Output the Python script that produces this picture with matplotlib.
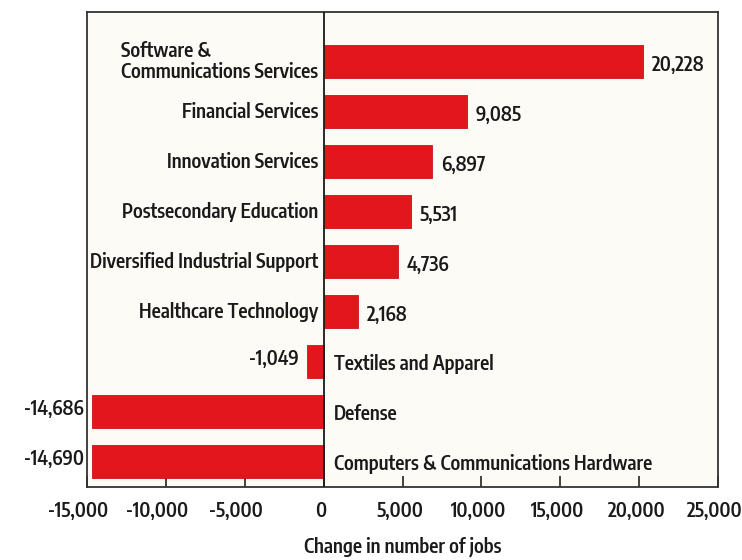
import matplotlib
matplotlib.use("Agg")
import matplotlib.pyplot as plt
from matplotlib.ticker import FuncFormatter
from matplotlib.transforms import ScaledTranslation

# Job change by industry cluster
categories = [
    "Software &\nCommunications Services",
    "Financial Services",
    "Innovation Services",
    "Postsecondary Education",
    "Diversified Industrial Support",
    "Healthcare Technology",
    "Textiles and Apparel",
    "Defense",
    "Computers & Communications Hardware",
]
values = [20228, 9085, 6897, 5531, 4736, 2168, -1049, -14686, -14690]
x_ticks = [-15000, -10000, -5000, 0, 5000, 10000, 15000, 20000, 25000]

plt.rcParams["font.family"] = ["Encode Sans Condensed", "DejaVu Sans"]

bar_color = "#e3161c"
text_color = "#1a1a1a"
W = 600
fs = 14

fig = plt.figure(figsize=(7.42, 5.6), dpi=100, facecolor="white")
ax = fig.add_axes([87 / 742, 73 / 560, 631 / 742, 475 / 560])
ax.set_facecolor("#fdfbf6")

y = list(range(len(categories)))
ax.barh(y, values, height=0.66, color=bar_color, edgecolor="#c8141a", linewidth=0.6, zorder=2)

ax.set_xlim(-15000, 25000)
ax.set_ylim(8.51, -0.99)
ax.axvline(0, color=text_color, linewidth=1.3, zorder=3)

for yi, v, name in zip(y, values, categories):
    label = f"{v:,}"
    if v >= 0:
        ax.text(v + 550, yi + 0.07, label, ha="left", va="center", fontsize=fs,
                fontweight=W, color=text_color)
        ax.text(-330, yi, name, ha="right", va="center", fontsize=fs,
                fontweight=W, color=text_color, linespacing=1.1,
                multialignment="left")
    else:
        ax.text(v - 500, yi - 0.05, label, ha="right", va="center", fontsize=fs,
                fontweight=W, color=text_color)
        ax.text(640, yi + 0.05, name, ha="left", va="center", fontsize=fs,
                fontweight=W, color=text_color)

ax.set_xticks(x_ticks)
ax.xaxis.set_major_formatter(FuncFormatter(lambda v, p: f"{int(v):,}"))
ax.tick_params(axis="x", direction="in", length=8, width=1.3, color="#333333",
               labelsize=fs, labelcolor=text_color, pad=10)
for lbl, t in zip(ax.get_xticklabels(), x_ticks):
    lbl.set_fontweight(W)
    dx = -9 if t < 0 else -3
    lbl.set_transform(lbl.get_transform() + ScaledTranslation(dx / 100, 0, fig.dpi_scale_trans))
ax.set_yticks([])

for s in ax.spines.values():
    s.set_color("#333333")
    s.set_linewidth(1.3)

ax.set_xlabel("Change in number of jobs", fontsize=fs, fontweight=W,
              color=text_color, labelpad=11)

fig.savefig("out.png", dpi=100, facecolor="white")
